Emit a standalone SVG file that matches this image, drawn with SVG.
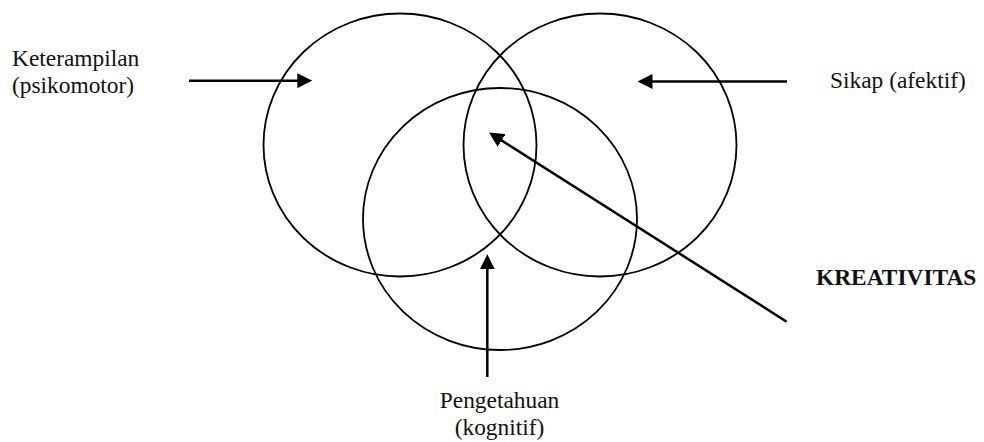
<svg xmlns="http://www.w3.org/2000/svg" width="984" height="442" viewBox="0 0 984 442">
  <style>
    .circ { fill: none; stroke: #000; stroke-width: 1.8; }
    .arr { fill: none; stroke: #000; stroke-width: 2.5; marker-end: url(#ah); }
    .lbl { font-family: "Liberation Serif", "Times New Roman", serif; font-size: 23.4px; fill: #111; }
    .bold { font-weight: bold; }
  </style>
  <defs>
    <marker id="ah" viewBox="0 0 15 15" markerWidth="15" markerHeight="15" refX="10" refY="7.5" orient="auto" markerUnits="userSpaceOnUse">
      <path d="M0,0 L15,7.5 L0,15 Z" fill="#000"/>
    </marker>
  </defs>
  <rect width="984" height="442" fill="#fff"/>
  <g id="psikomotor">
    <ellipse class="circ" cx="400" cy="145" rx="136.5" ry="131.5"/>
    <text class="lbl" x="12" y="65.5">Keterampilan</text>
    <text class="lbl" x="12" y="92.5">(psikomotor)</text>
  </g>
  <g id="afektif">
    <ellipse class="circ" cx="600" cy="145" rx="136.5" ry="131.5"/>
    <text class="lbl" x="830" y="88">Sikap (afektif)</text>
  </g>
  <g id="kognitif">
    <ellipse class="circ" cx="500" cy="219" rx="137" ry="131"/>
    <text class="lbl" x="499.5" y="408" text-anchor="middle">Pengetahuan</text>
    <text class="lbl" x="499.5" y="435" text-anchor="middle">(kognitif)</text>
  </g>
  <g id="kreativitas">
    <text class="lbl bold" x="816" y="285">KREATIVITAS</text>
  </g>
  <g id="connectors">
    <line class="arr" x1="189" y1="80.7" x2="307.3" y2="80.7"/>
    <line class="arr" x1="787" y1="81.5" x2="642.5" y2="81.5"/>
    <line class="arr" x1="487.3" y1="377" x2="487.3" y2="259.3"/>
    <line class="arr" x1="786.7" y1="321.7" x2="493.2" y2="135.1"/>
  </g>
</svg>
